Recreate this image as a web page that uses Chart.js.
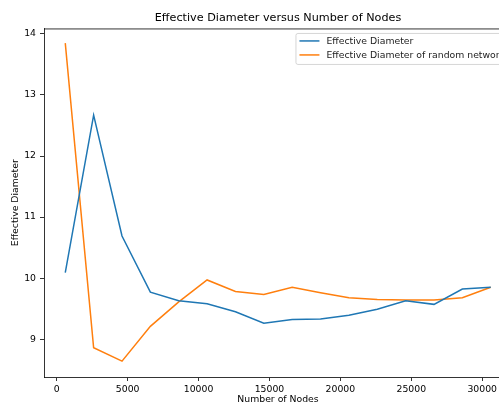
<!DOCTYPE html>
<html>
<head>
<meta charset="utf-8">
<script src="https://cdn.jsdelivr.net/npm/chart.js@4"></script>
<style>
  html, body { margin: 0; padding: 0; background: #fff; }
  #wrap { width: 499px; height: 404px; overflow: hidden; position: relative; }
  #chart { display: block; }
</style>
</head>
<body>
<div id="wrap"><canvas id="chart" width="530" height="404"></canvas></div>
<script>
// data
const nodes = [600, 2600, 4600, 6600, 8600, 10600, 12600, 14600, 16600, 18600, 20600, 22600, 24600, 26600, 28600, 30600];
const effDiameter = [10.09, 12.67, 10.69, 9.77, 9.63, 9.58, 9.45, 9.26, 9.32, 9.33, 9.39, 9.49, 9.63, 9.57, 9.82, 9.85];
const randomDiameter = [13.85, 8.86, 8.64, 9.21, 9.61, 9.97, 9.78, 9.73, 9.85, 9.76, 9.68, 9.65, 9.64, 9.64, 9.68, 9.85];
const xTicks = [0, 5000, 10000, 15000, 20000, 25000, 30000];
const yTicks = [9, 10, 11, 12, 13, 14];
const seriesLabels = ['Effective Diameter', 'Effective Diameter of random network'];

const FONT = '"DejaVu Sans", sans-serif';
const SMALL = 9.3;

// matplotlib style box + legend inside the axes
const boxPlugin = {
  id: 'box',
  afterDraw(chart) {
    const { ctx, chartArea: a } = chart;
    ctx.save();
    ctx.strokeStyle = '#000';
    ctx.lineWidth = 0.8;
    ctx.beginPath();
    ctx.moveTo(a.left, a.top + 0.5);
    ctx.lineTo(a.right, a.top + 0.5);
    ctx.moveTo(a.right - 0.5, a.top);
    ctx.lineTo(a.right - 0.5, a.bottom);
    ctx.stroke();

    // legend
    ctx.font = SMALL + 'px ' + FONT;
    const widths = chart.data.datasets.map(d => ctx.measureText(d.label).width);
    const textW = Math.max(...widths);
    const boxW = 4 + 20 + 7 + textW + 6;
    const boxR = a.right - 1;
    const boxL = boxR - boxW;
    const boxT = a.top + 4.5;
    const boxH = 31;
    ctx.fillStyle = 'rgba(255,255,255,0.8)';
    ctx.strokeStyle = 'rgba(204,204,204,0.8)';
    ctx.lineWidth = 1;
    ctx.beginPath();
    ctx.roundRect(boxL + 0.5, boxT + 0.5, boxW, boxH, 2);
    ctx.fill();
    ctx.stroke();
    chart.data.datasets.forEach((d, i) => {
      const y = boxT + 8 + i * 14;
      ctx.strokeStyle = d.borderColor;
      ctx.lineWidth = 1.5;
      ctx.beginPath();
      ctx.moveTo(boxL + 4, y);
      ctx.lineTo(boxL + 24, y);
      ctx.stroke();
      ctx.fillStyle = '#222';
      ctx.textBaseline = 'middle';
      ctx.textAlign = 'left';
      ctx.fillText(d.label, boxL + 31, y + 0.5);
    });
    ctx.restore();
  }
};

new Chart(document.getElementById('chart'), {
  type: 'line',
  data: {
    datasets: [
      {
        label: seriesLabels[0],
        data: nodes.map((n, i) => ({ x: n, y: effDiameter[i] })),
        borderColor: '#1f77b4',
        borderWidth: 1.5,
        pointRadius: 0,
        tension: 0,
        fill: false
      },
      {
        label: seriesLabels[1],
        data: nodes.map((n, i) => ({ x: n, y: randomDiameter[i] })),
        borderColor: '#ff7f0e',
        borderWidth: 1.5,
        pointRadius: 0,
        tension: 0,
        fill: false
      }
    ]
  },
  options: {
    responsive: false,
    animation: false,
    layout: { padding: { left: 0, top: 0, right: 18, bottom: 0 } },
    plugins: {
      legend: { display: false },
      tooltip: { enabled: false },
      title: {
        display: true,
        fullSize: false,
        text: 'Effective Diameter versus Number of Nodes',
        color: '#000',
        font: { family: FONT, size: 11.2, weight: 'normal' },
        padding: { top: 11.6, bottom: 3.4 }
      }
    },
    scales: {
      x: {
        type: 'linear',
        min: -900,
        max: 32100,
        afterFit: s => { s.height = 27; },
        afterBuildTicks: s => { s.ticks = xTicks.map(v => ({ value: v })); },
        grid: { drawOnChartArea: false, drawTicks: true, tickLength: 4, color: '#000', lineWidth: 0.8 },
        border: { display: true, color: '#000', width: 0.8 },
        ticks: { color: '#000', font: { family: FONT, size: SMALL }, padding: 3, maxRotation: 0, callback: v => String(v) },
        title: {
          display: true,
          text: 'Number of Nodes',
          color: '#000',
          font: { family: FONT, size: SMALL, lineHeight: 1 },
          padding: { top: 0, bottom: 0 }
        }
      },
      y: {
        type: 'linear',
        min: 8.38,
        max: 14.09,
        afterFit: s => { s.width = 44; },
        afterBuildTicks: s => { s.ticks = yTicks.map(v => ({ value: v })); },
        grid: { drawOnChartArea: false, drawTicks: true, tickLength: 4, color: '#000', lineWidth: 0.8 },
        border: { display: true, color: '#000', width: 0.8 },
        ticks: { color: '#000', font: { family: FONT, size: SMALL }, padding: 4, callback: v => String(v) },
        title: {
          display: true,
          text: 'Effective Diameter',
          color: '#000',
          font: { family: FONT, size: SMALL, lineHeight: 1.2 },
          padding: { top: 9.8, bottom: 0 }
        }
      }
    }
  },
  plugins: [boxPlugin]
});
</script>
</body>
</html>
